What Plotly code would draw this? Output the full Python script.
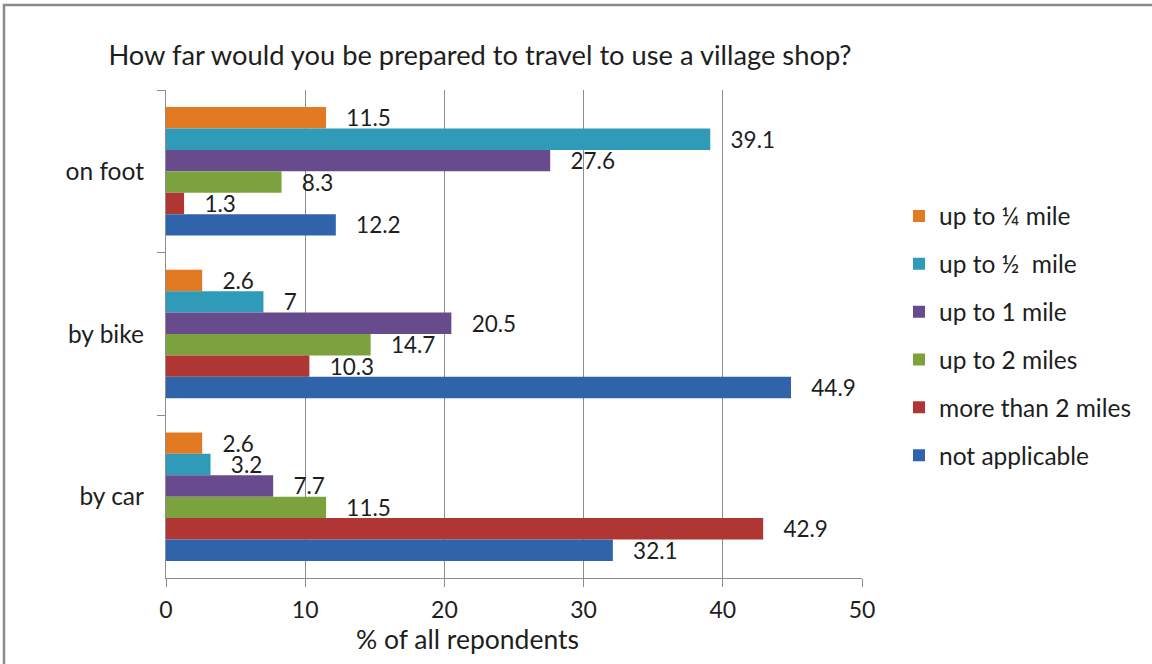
import plotly.graph_objects as go

# Survey categories (top to bottom) and distance bands
modes = ["on foot", "by bike", "by car"]
bands = ["up to ¼ mile", "up to ½  mile", "up to 1 mile",
         "up to 2 miles", "more than 2 miles", "not applicable"]

# % of respondents per band, listed in the same order as `modes`
quarter_mile = [11.5, 2.6, 2.6]
half_mile = [39.1, 7, 3.2]
one_mile = [27.6, 20.5, 7.7]
two_miles = [8.3, 14.7, 11.5]
over_two_miles = [1.3, 10.3, 42.9]
not_applicable = [12.2, 44.9, 32.1]

series = [quarter_mile, half_mile, one_mile, two_miles, over_two_miles, not_applicable]
colors = ["#E27A22", "#2F9BB9", "#684B8C", "#7BA23C", "#AF3633", "#2F64AA"]

FONT = "Lato, Carlito, Calibri, sans-serif"
TEXT = "#1e1e1e"
LINE = "#8c8c8c"

fig = go.Figure()
for i, (name, vals, col) in enumerate(zip(bands, series, colors)):
    fig.add_trace(go.Bar(
        y=modes, x=vals, name=name, orientation="h",
        marker=dict(color=col, line=dict(width=0)),
        texttemplate="\u00a0\u00a0\u00a0%{x}", textposition="outside",
        textfont=dict(family=FONT, size=22.5, color=TEXT),
        constraintext="none", cliponaxis=False,
        legendgroup=f"g{i}", hoverinfo="x+name",
    ))

W, H = 1152, 664
L, R, T, B = 166, 862, 90, 578
pw, ph = R - L, B - T

def px(x):
    return (x - L) / pw

def py(y):
    return (B - y) / ph

fig.update_layout(
    width=W, height=H, autosize=False,
    margin=dict(l=L, r=W - R, t=T, b=H - B, pad=0),
    paper_bgcolor="white", plot_bgcolor="white",
    font=dict(family=FONT, size=23, color=TEXT),
    barmode="group", bargap=0.21, bargroupgap=0,
    title=dict(text="How far would you be prepared to travel to use a village shop?",
               x=480 / W, xanchor="center", y=1 - 55 / H, yanchor="middle",
               font=dict(family=FONT, size=27.3, color=TEXT)),
    legend=dict(x=px(899), xanchor="left", y=py(336), yanchor="middle",
                traceorder="grouped", tracegroupgap=13,
                font=dict(family=FONT, size=24.5, color=TEXT),
                bgcolor="rgba(0,0,0,0)"),
    xaxis=dict(range=[0, 50], dtick=10, tick0=0, showgrid=True,
               gridcolor=LINE, gridwidth=1, zeroline=False,
               showline=True, linecolor=LINE, linewidth=1.3,
               ticks="outside", ticklen=8, tickcolor=LINE, tickwidth=1.3,
               ticklabelstandoff=3,
               tickfont=dict(family=FONT, size=23, color=TEXT)),
    yaxis=dict(autorange="reversed", showgrid=False, zeroline=False,
               showline=True, linecolor=LINE, linewidth=1.3,
               ticks="outside", ticklen=8, tickcolor=LINE, tickwidth=1.3,
               tickson="boundaries", ticklabelstandoff=16,
               tickfont=dict(family=FONT, size=24.5, color=TEXT)),
    showlegend=True,
)

# axis title
fig.add_annotation(text="% of all repondents", xref="paper", yref="paper",
                   x=px(467), y=py(639), xanchor="center", yanchor="middle",
                   showarrow=False, font=dict(family=FONT, size=26.5, color=TEXT))

# frame around the chart
fig.add_shape(type="rect", xref="paper", yref="paper",
              x0=px(4), x1=px(1170), y0=py(5), y1=py(680),
              line=dict(color="#8a8a8a", width=2.5), fillcolor="rgba(0,0,0,0)",
              layer="below")

fig.write_html("out.html")
